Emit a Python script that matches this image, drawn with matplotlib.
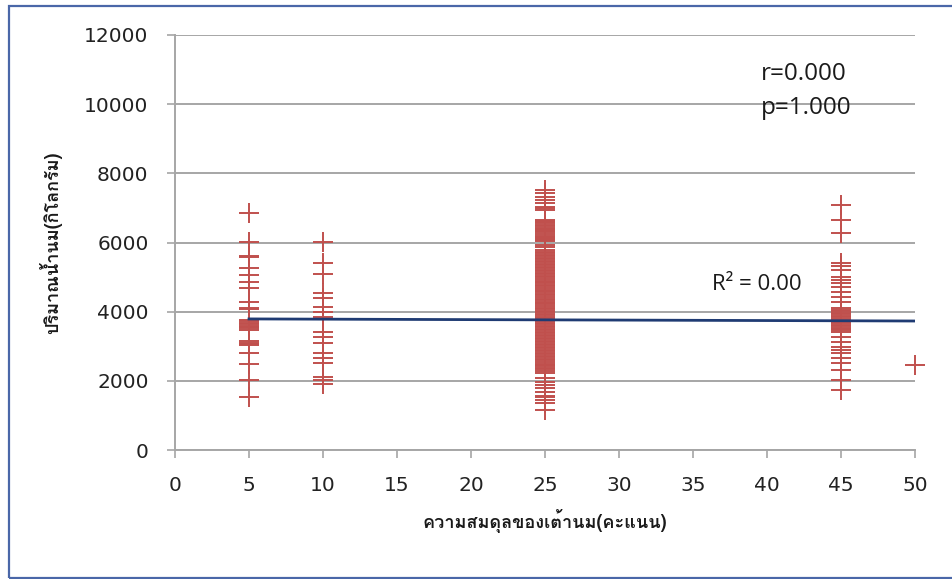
import matplotlib
matplotlib.use("Agg")
import matplotlib.pyplot as plt
from matplotlib import font_manager
from matplotlib.ft2font import FT2Font
from matplotlib.patches import Rectangle

# Milk yield (kg) by udder balance score
x_labels_title = "ความสมดุลของเต้านม(คะแนน)"
y_labels_title = "ปริมาณน้ำนม(กิโลกรัม)"

score_5 = [6860, 6020, 5620, 5590, 5250, 5060, 4870, 4680, 4290, 4100, 4080,
           3760, 3720, 3680, 3640, 3600, 3560, 3520, 3480,
           3140, 3100, 3060, 3030, 2800, 2480, 2020, 1520]
score_10 = [6020, 5400, 5080, 4530, 4390, 4140, 4000, 3860, 3420, 3280, 3100,
            2800, 2650, 2530, 2120, 2020, 1910]
score_25 = [7520, 7420, 7330, 7230, 7130, 7040, 6990, 6950,
            6650, 6620, 6580, 6550, 6500, 6470, 6430, 6400, 6360, 6320, 6290,
            6250, 6200, 6170, 6130, 6100, 6060, 6030,
            5930, 5880, 5790,
            5730, 5690, 5650, 5600, 5560, 5510, 5470, 5430, 5380, 5340, 5300,
            5250, 5210, 5170, 5120, 5080, 5040, 4990, 4950, 4900, 4860, 4820,
            4770, 4730, 4690, 4640, 4600, 4560, 4510, 4470, 4420, 4380, 4340,
            4290, 4250, 4210, 4160, 4120, 4080, 4030, 3990, 3940, 3900, 3860,
            3810, 3770, 3730, 3680, 3640, 3600, 3550, 3510, 3460, 3420, 3380,
            3330, 3290, 3250, 3200, 3160, 3120, 3070, 3030, 2980, 2940, 2900,
            2850, 2810, 2770, 2720, 2680, 2640, 2590, 2550, 2500, 2460, 2420,
            2370, 2330, 2290, 2240,
            2070, 1980, 1880, 1780, 1690, 1560, 1540, 1450, 1350, 1160]
score_45 = [7080, 6650, 6270, 5400, 5330, 5200, 5010, 4920, 4820, 4720,
            4580, 4430, 4290,
            4100, 4060, 4010, 3960, 3920, 3880, 3840, 3790, 3750, 3700, 3660,
            3620, 3580, 3540, 3500, 3460, 3420,
            3280, 3130, 2990, 2890, 2800, 2650, 2510, 2310, 2020, 1740]
score_50 = [2460]

groups = {5: score_5, 10: score_10, 25: score_25, 45: score_45, 50: score_50}

# Linear trend endpoints (kg) at scores 5 and 50
trend_x = [5, 50]
trend_y = [3790, 3730]

x_ticks = [0, 5, 10, 15, 20, 25, 30, 35, 40, 45, 50]
y_ticks = [0, 2000, 4000, 6000, 8000, 10000, 12000]

stats_text = "r=0.000\np=1.000"
r2_text = "R² = 0.00"


def thai_family():
    """Return an installed family name that covers Thai script, if any."""
    for fe in font_manager.fontManager.ttflist:
        try:
            cmap = FT2Font(fe.fname).get_charmap()
        except Exception:
            continue
        if 0x0E01 in cmap and 0x0E21 in cmap:
            return fe.name
    return None


thai = thai_family()
label_family = [thai, "DejaVu Sans"] if thai else ["DejaVu Sans"]

fig = plt.figure(figsize=(9.52, 5.79), dpi=100)
ax = fig.add_axes([175 / 952, 1 - 450 / 579, 740 / 952, 415 / 579])

red = "#C0504D"
for xv, ys in groups.items():
    ax.plot([xv] * len(ys), ys, linestyle="none", marker="+",
            markersize=14, markeredgewidth=1.4, color=red, clip_on=False)

ax.plot(trend_x, trend_y, color="#1F3B73", linewidth=2.0, zorder=3)

ax.set_xlim(0, 50)
ax.set_ylim(0, 12000)
ax.set_xticks(x_ticks)
ax.set_yticks(y_ticks)
ax.set_xticklabels([str(v) for v in x_ticks])
ax.set_yticklabels([str(v) for v in y_ticks])

ax.yaxis.grid(True, color="#A6A6A6", linewidth=1.4)
ax.set_axisbelow(True)
for side in ("top", "right"):
    ax.spines[side].set_visible(False)
for side in ("left", "bottom"):
    ax.spines[side].set_color("#A6A6A6")
    ax.spines[side].set_linewidth(1.4)

ax.tick_params(axis="both", direction="out", length=6, width=1.2,
               color="#A6A6A6", labelsize=14.5, labelcolor="#222222", pad=13)

ax.set_xlabel(x_labels_title, family=label_family, fontsize=13,
              fontweight="bold", color="#1A1A1A", labelpad=10)
ax.set_ylabel(y_labels_title, family=label_family, fontsize=13,
              fontweight="bold", color="#1A1A1A", labelpad=16)

ax.text(39.6, 11220, stats_text, fontsize=17.5, family="Open Sans",
        color="#1A1A1A", va="top", ha="left", linespacing=1.55)
ax.text(36.3, 4780, r2_text, fontsize=16, family="Open Sans",
        color="#1A1A1A", va="center", ha="left")

# Outer frame
fig.patches.append(Rectangle((9 / 952, 1 / 579), 1.1, 1 - 7 / 579,
                             transform=fig.transFigure, fill=False,
                             edgecolor="#4A67A8", linewidth=1.6))

fig.savefig("out.png", dpi=100, facecolor="white")
